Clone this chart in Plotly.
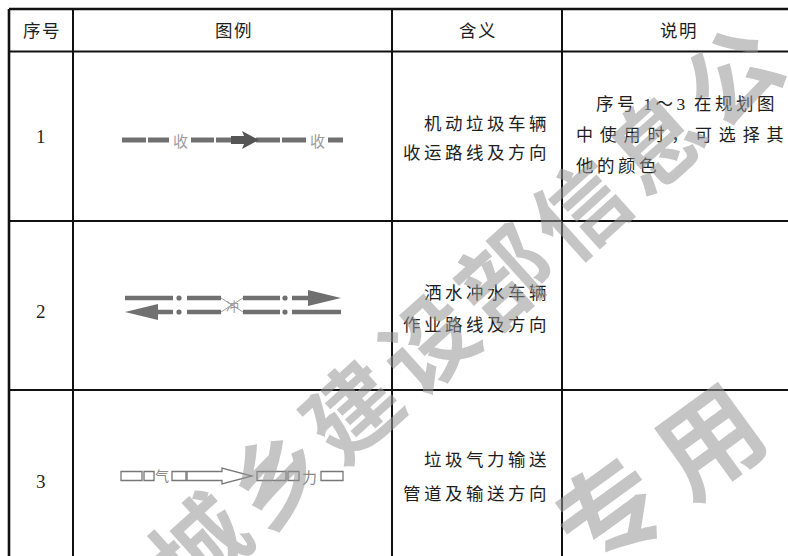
import plotly.graph_objects as go

# ---------------- data (table content) ----------------
headers = ["序号", "图例", "含义", "说明"]
row_numbers = ["1", "2", "3"]
meanings = [
    ["机动垃圾车辆", "收运路线及方向"],
    ["洒水冲水车辆", "作业路线及方向"],
    ["垃圾气力输送", "管道及输送方向"],
]
notes = ["序号 1～3 在规划图", "中使用时，可选择其", "他的颜色"]
legend_labels = [["收", "收"], ["冲"], ["气", "力"]]
watermark_main = "城乡建设部信息公开"
watermark_side = "资料专用"

# ---------------- geometry / style ----------------
W, H = 788, 556
col_x = [9, 73, 392, 562, 800]
row_y = [9, 51.5, 221, 390, 560]
FONT = "Liberation Serif, Noto Sans CJK SC"
TXT = "#1e1e1e"
SYM = "#707070"
FS = 17.5

def spaced(s, sep="\u2009"):
    out = ""
    for i, c in enumerate(s):
        if c == " ":
            out += "\u2002"
            continue
        if i > 0 and s[i - 1] != " ":
            out += sep
        out += c
    return out

fig = go.Figure(go.Scatter(x=[], y=[], showlegend=False))
shapes = []
ann = []

def text(x, y, t, size=FS, xanchor="center", color=TXT, family=FONT):
    ann.append(dict(x=x, y=y, xref="x", yref="y", text=t, showarrow=False,
                    xanchor=xanchor, yanchor="middle",
                    font=dict(family=family, size=size, color=color)))

def seg(x0, x1, y, w=5, color=SYM):
    shapes.append(dict(type="line", x0=x0, x1=x1, y0=y, y1=y, xref="x", yref="y",
                       line=dict(color=color, width=w), layer="above"))

def path(p, fill=SYM, line=None, w=0):
    shapes.append(dict(type="path", path=p, xref="x", yref="y", fillcolor=fill,
                       line=dict(color=line or fill, width=w), layer="above"))

def dot(x, y, r=2.6, color=SYM):
    shapes.append(dict(type="circle", x0=x - r, x1=x + r, y0=y - r, y1=y + r,
                       xref="x", yref="y", fillcolor=color,
                       line=dict(width=0), layer="above"))

def orect(x0, x1, yc, h=4.5, color="#777777"):
    shapes.append(dict(type="rect", x0=x0, x1=x1, y0=yc - h, y1=yc + h,
                       xref="x", yref="y", fillcolor="rgba(0,0,0,0)",
                       line=dict(color=color, width=1.3), layer="above"))

# ---------------- table grid ----------------
for i, y in enumerate(row_y[:-1]):
    shapes.append(dict(type="line", x0=col_x[0], x1=col_x[-1], y0=y, y1=y,
                       xref="x", yref="y", line=dict(color="#111", width=2.4 if i == 0 else 2),
                       layer="above"))
for i, x in enumerate(col_x[:-1]):
    shapes.append(dict(type="line", x0=x, x1=x, y0=row_y[0], y1=row_y[-1],
                       xref="x", yref="y", line=dict(color="#111", width=2.6 if i == 0 else 2),
                       layer="above"))

# ---------------- header ----------------
for i, h in enumerate(headers):
    text((col_x[i] + col_x[i + 1]) / 2 if i < 3 else 678, 30.5, spaced(h, "\u200a"), size=FS)

# ---------------- row numbers ----------------
num_y = [136, 311, 481]
for n, y in zip(row_numbers, num_y):
    text(41, y, n, size=19)

# ---------------- meanings ----------------
mean_y = [[124, 153], [293, 325], [460, 494]]
for lines, ys in zip(meanings, mean_y):
    for ln, y in zip(lines, ys):
        text(549, y, spaced(ln), xanchor="right")

# ---------------- notes ----------------
text(777, 104, spaced(notes[0]), xanchor="right")
text(574, 135, spaced(notes[1], "\u2009\u2009"), size=17, xanchor="left")
text(574, 166, spaced(notes[2]), xanchor="left")

# ---------------- legend symbol 1 ----------------
y1 = 140
seg(122, 146, y1); seg(148, 169, y1)
seg(191, 214, y1); seg(216, 236, y1)
seg(256, 280, y1); seg(282, 306, y1)
seg(328, 343, y1)
path(f"M231,{y1-4} L244,{y1-4} L242,{y1-9} L259,{y1} L242,{y1+9} L244,{y1+4} L231,{y1+4} Z",
     fill="#555555")
text(180, y1, legend_labels[0][0], size=15, color="#9c9c9c", family="Noto Sans CJK SC")
text(317, y1, legend_labels[0][1], size=15, color="#9c9c9c", family="Noto Sans CJK SC")

# ---------------- legend symbol 2 ----------------
yt, yb = 298, 312
for y in (yt, yb):
    seg(187, 221, y, w=4.5)
    seg(243, 280, y, w=4.5)
    dot(179, y)
    dot(285, y)
seg(125, 173, yt, w=4.5)
seg(292, 312, yt, w=4.5)
path(f"M308,{yt-8} L341,{yt} L308,{yt+8} Z")
seg(155, 173, yb, w=4.5)
seg(292, 341, yb, w=4.5)
path(f"M158,{yb-8} L125,{yb} L158,{yb+8} Z")
shapes.append(dict(type="line", x0=221, y0=yt, x1=243, y1=yb, xref="x", yref="y",
                   line=dict(color="#9a9a9a", width=1), layer="above"))
shapes.append(dict(type="line", x0=221, y0=yb, x1=243, y1=yt, xref="x", yref="y",
                   line=dict(color="#9a9a9a", width=1), layer="above"))
text(232, 305, legend_labels[1][0], size=13, color="#9a9a9a", family="Noto Sans CJK SC")

# ---------------- legend symbol 3 ----------------
y3 = 476
orect(121, 142, y3); orect(144, 154, y3)
orect(172, 186, y3)
path(f"M187,{y3-4.5} L222,{y3-4.5} L222,{y3-8} L252,{y3} L222,{y3+8} L222,{y3+4.5} L187,{y3+4.5} Z",
     fill="rgba(0,0,0,0)", line="#777777", w=1.3)
orect(257, 286, y3); orect(288, 299, y3)
orect(321, 343, y3)
text(162, y3 - 1, legend_labels[2][0], size=14, color="#8a8a8a", family="Noto Sans CJK SC")
text(309, y3, legend_labels[2][1], size=15, color="#8a8a8a", family="Noto Sans CJK SC")

# ---------------- watermark ----------------
WM = "rgba(150,150,150,0.55)"
def watermark(chars, x0, y0, dx, dy, angle, size):
    for i, c in enumerate(chars):
        ann.append(dict(x=x0 + i * dx, y=y0 + i * dy, xref="x", yref="y", text=c,
                        showarrow=False, textangle=angle,
                        font=dict(family="Noto Sans CJK SC", size=size, color=WM, weight=700)))

watermark(watermark_main, 196, 540, 76, -67, -42, 92)
watermark(watermark_side, 405, 651, 100, -72, -36, 104)

fig.update_layout(
    width=W, height=H, margin=dict(l=0, r=0, t=0, b=0),
    paper_bgcolor="white", plot_bgcolor="white",
    xaxis=dict(range=[0, W], visible=False, fixedrange=True),
    yaxis=dict(range=[H, 0], visible=False, fixedrange=True),
    shapes=shapes, annotations=ann, showlegend=False,
)
fig.write_html(
    "out.html",
    config={"displayModeBar": False, "staticPlot": True},
    post_script="document.body.style.margin='0';document.body.style.overflow='hidden';",
)
